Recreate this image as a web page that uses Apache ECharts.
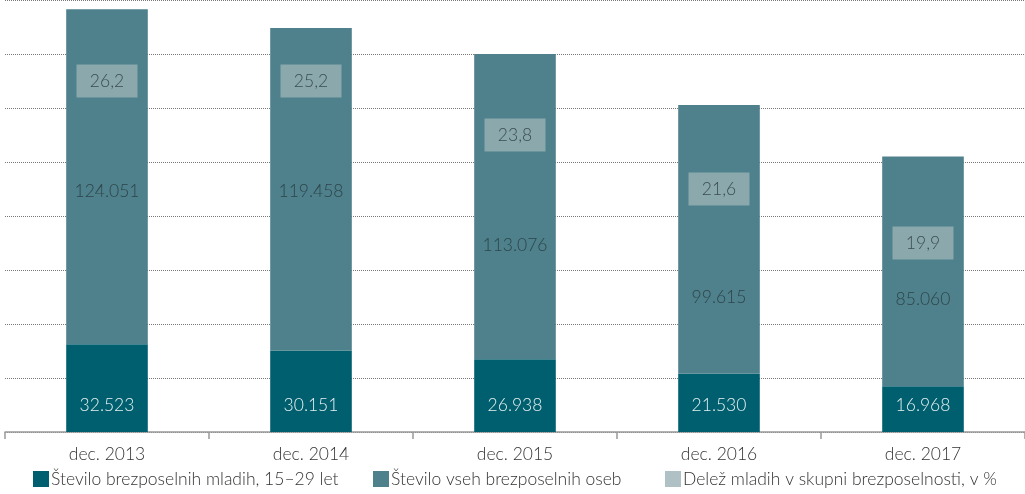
<!DOCTYPE html>
<html>
<head>
<meta charset="utf-8">
<script src="https://cdn.jsdelivr.net/npm/echarts@6/dist/echarts.min.js"></script>
<style>
  html, body { margin: 0; padding: 0; background: #fff; }
  #chart { width: 1025px; height: 494px; }
</style>
</head>
<body>
<div id="chart"></div>
<script>
// Unemployment in Slovenia, December of each year
const categories = ['dec. 2013', 'dec. 2014', 'dec. 2015', 'dec. 2016', 'dec. 2017'];
const youngUnemployed = [32523, 30151, 26938, 21530, 16968];     // 15–29 years
const allUnemployed = [124051, 119458, 113076, 99615, 85060];
const youngSharePct = [26.2, 25.2, 23.8, 21.6, 19.9];

// Where the annotation labels sit on the value axis
const totalLabelAnchor = [89000, 89000, 69000, 50000, 49000];
const shareLabelAnchor = [130000, 130000, 110000, 90000, 70000];

const FONT = 'Lato';
const FS = 17.5;
const fmtInt = v => String(v).replace(/\B(?=(\d{3})+(?!\d))/g, '.');
const fmtPct = v => v.toFixed(1).replace('.', ',');

const NAME_YOUNG = 'Število brezposelnih mladih, 15–29 let';
const NAME_ALL = 'Število vseh brezposelnih oseb';
const NAME_SHARE = 'Delež mladih v skupni brezposelnosti, v %';

const COLOR_YOUNG = '#005f6e';
const COLOR_ALL = '#4e818c';
const COLOR_SHARE = '#9bb1b5';

function legendAt(left, name, color) {
  return {
    left: left,
    top: 470,
    padding: 0,
    itemWidth: 16,
    itemHeight: 16,
    itemGap: 0,
    icon: 'rect',
    selectedMode: false,
    textStyle: { fontFamily: FONT, fontWeight: 300, fontSize: FS, color: '#333', padding: [0, 0, 0, -3] },
    data: [{ name: name, itemStyle: { color: color } }]
  };
}

const chart = echarts.init(document.getElementById('chart'), null, { renderer: 'canvas' });

chart.setOption({
  animation: false,
  textStyle: { fontFamily: FONT, fontWeight: 300 },
  grid: { left: 5, right: 0, top: -2, bottom: 62, containLabel: false },
  legend: [
    legendAt(33, NAME_YOUNG, COLOR_YOUNG),
    legendAt(373, NAME_ALL, COLOR_ALL),
    legendAt(665, NAME_SHARE, COLOR_SHARE)
  ],
  xAxis: {
    type: 'category',
    data: categories,
    boundaryGap: true,
    axisLine: { lineStyle: { color: '#999', width: 1.5 } },
    axisTick: { show: true, length: 7, lineStyle: { color: '#999', width: 1.5 } },
    axisLabel: { fontFamily: FONT, fontWeight: 300, fontSize: FS, color: '#333', margin: 13 }
  },
  yAxis: {
    type: 'value',
    min: 0,
    max: 160000,
    interval: 20000,
    axisLabel: { show: false },
    axisLine: { show: false },
    axisTick: { show: false },
    splitLine: { lineStyle: { color: '#777', type: [1, 1], width: 1 } }
  },
  series: [
    {
      name: NAME_YOUNG,
      type: 'bar',
      stack: 'u',
      barWidth: '40%',
      itemStyle: { color: COLOR_YOUNG },
      label: {
        show: true,
        position: 'insideBottom',
        distance: 18,
        textBorderWidth: 0,
        fontFamily: FONT, fontWeight: 300, fontSize: FS, color: '#e6f0f2',
        formatter: p => fmtInt(p.value)
      },
      data: youngUnemployed
    },
    {
      name: NAME_ALL,
      type: 'bar',
      stack: 'u',
      itemStyle: { color: COLOR_ALL },
      data: allUnemployed
    },
    {
      name: 'totalLabels',
      type: 'scatter',
      symbolSize: 0,
      silent: true,
      itemStyle: { color: COLOR_ALL },
      label: {
        show: true,
        position: 'inside',
        textBorderWidth: 0,
        fontFamily: FONT, fontWeight: 300, fontSize: FS, color: '#26353a',
        formatter: p => fmtInt(allUnemployed[p.dataIndex])
      },
      data: categories.map((c, i) => [i, totalLabelAnchor[i]])
    },
    {
      name: NAME_SHARE,
      type: 'scatter',
      symbolSize: 0,
      silent: true,
      itemStyle: { color: COLOR_SHARE },
      label: {
        show: true,
        position: 'inside',
        backgroundColor: COLOR_SHARE,
        borderWidth: 0,
        textBorderWidth: 0,
        width: 33,
        align: 'center',
        padding: [8, 14, 7, 14],
        fontFamily: FONT, fontWeight: 300, fontSize: FS, color: '#26353a',
        formatter: p => fmtPct(youngSharePct[p.dataIndex])
      },
      data: categories.map((c, i) => [i, shareLabelAnchor[i]])
    }
  ]
});
</script>
</body>
</html>
